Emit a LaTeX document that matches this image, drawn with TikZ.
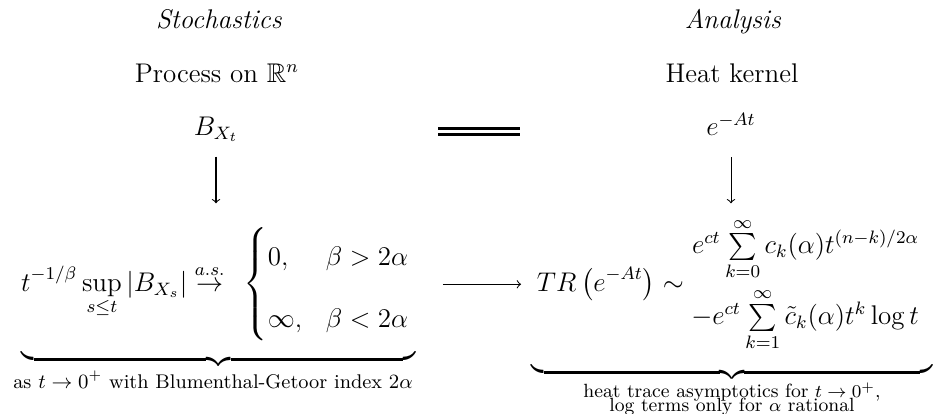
\documentclass[tikz,border=0pt]{standalone}
\usepackage{amsmath,amssymb}
\begin{document}
\begin{tikzpicture}[x=0.4444pt,y=-0.4444pt,
  every node/.style={inner sep=0pt, outer sep=0pt, font=\fontsize{12}{14.5}\selectfont},
  arr/.style={->, line width=0.45pt},
  eqline/.style={double, double distance=1.6pt, line width=1pt},
  capfont/.style={font=\fontsize{8.8}{10}\selectfont},
  capfonttight/.style={font={\fontsize{8.5}{6}\selectfont\lineskiplimit=-20pt}}]
\useasboundingbox (0,0) rectangle (933,413);

\node[anchor=base] (stoch) at (219,28) {\textit{Stochastics}};
\node[anchor=base] (anal) at (733,28) {\textit{Analysis}};
\node[anchor=base] (proc) at (217,82) {Process on $\mathbb{R}^n$};
\node[anchor=base] (heat) at (732,82) {Heat kernel};
\node[anchor=base] (bx) at (216,135) {$B_{X_t}$};
\node[anchor=base] (eat) at (731,135) {$e^{-At}$};

\coordinate (eqL) at (438,131.5);
\coordinate (eqR) at (520,131.5);
\draw[eqline] (eqL) -- (eqR);

\node[anchor=base] (lexpr) at (216,291) {$\displaystyle t^{-1/\beta}\sup_{s\le t}|B_{X_s}|\stackrel{a.s.}{\to}\;\,\left\{\def\arraystretch{1.9}\begin{array}{@{}l@{\hspace{10.5pt}}l@{}}0, & \beta>2\alpha\\ \infty, & \beta<2\alpha\end{array}\right.$};

\node[anchor=base] (rexpr) at (728,291) {$\displaystyle TR\left(e^{-At}\right)\sim\begin{array}{@{}r@{}}e^{ct}\sum\limits_{k=0}^{\infty}c_k(\alpha)t^{(n-k)/2\alpha}\\[11pt]-e^{ct}\sum\limits_{k=1}^{\infty}\tilde{c}_k(\alpha)t^k\log t\end{array}$};

\draw[arr, shorten <=6.8pt, shorten >=8.4pt] (bx.south) -- (bx.south |- lexpr.north);
\draw[arr, shorten <=9.8pt, shorten >=8.4pt] (eat.south) -- (eat.south |- lexpr.north);
\draw[arr, shorten <=14.2pt, shorten >=7.1pt] ([yshift=3pt]lexpr.base east) -- ([yshift=3pt]rexpr.base west);

\node[anchor=north] (lbrace) at (218.5,351) {$\underbrace{\hbox to 175pt{}}$};
\node[anchor=north] (rbrace) at (732,364) {$\underbrace{\hbox to 178pt{}}$};

\node[anchor=base, capfont] (lcap) at (213,388) {as $t\to0^+$ with Blumenthal-Getoor index $2\alpha$};
\node[anchor=north, capfonttight, align=center] (rcap) at (732,383) {heat trace asymptotics for $t\to0^+$,\\log terms only for $\alpha$ rational};
\end{tikzpicture}
\end{document}
